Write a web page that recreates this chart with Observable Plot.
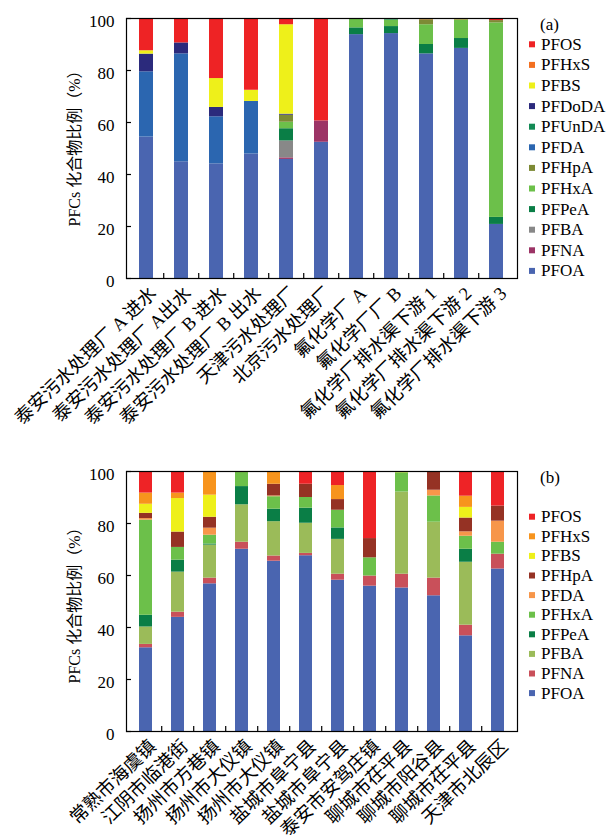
<!DOCTYPE html>
<html>
<head>
<meta charset="utf-8">
<script src="https://cdn.jsdelivr.net/npm/d3@7"></script>
<script src="https://cdn.jsdelivr.net/npm/@observablehq/plot@0.6"></script>
<style>
  body { margin: 0; background: #fff; }
  #chart { width: 613px; height: 835px; position: relative; overflow: hidden; }
  #chart svg { display: block; }
</style>
</head>
<body>
<div id="chart"></div>
<script>
// ---------- Panel (a) data ----------
const sitesA = ["泰安污水处理厂 A 进水", "泰安污水处理厂 A出水", "泰安污水处理厂 B 进水", "泰安污水处理厂 B 出水",
  "天津污水处理厂", "北京污水处理厂", "氟化学厂 A", "氟化学厂厂 B",
  "氟化学厂排水渠下游 1", "氟化学厂排水渠下游 2", "氟化学厂排水渠下游 3"];
const legendA = ["PFOS", "PFHxS", "PFBS", "PFDoDA", "PFUnDA", "PFDA", "PFHpA", "PFHxA", "PFPeA", "PFBA", "PFNA", "PFOA"];
const colorsA = ["#ee2325", "#f37021", "#eef01a", "#2b2a7c", "#138a55", "#2b66b0", "#7d8a35", "#6cc04a", "#0a7e46", "#888888", "#9c3466", "#4a65b0"];
const A_PFOA  = [54.4, 44.9, 44.1, 47.9, 45.8, 52.4, 93.8, 94.2, 86.4, 88.5, 20.8];
const A_PFNA  = [0, 0, 0, 0, 0.6, 8.2, 0, 0, 0, 0, 0];
const A_PFBA  = [0, 0, 0, 0, 6.5, 0, 0, 0, 0, 0, 0];
const A_PFPeA = [0, 0, 0, 0, 4.7, 0, 2.6, 2.7, 3.6, 3.8, 2.7];
const A_PFHxA = [0, 0, 0, 0, 2.5, 0, 3.6, 2.5, 7.6, 7.2, 74.8];
const A_PFHpA = [0, 0, 0, 0, 2.7, 0, 0, 0, 1.9, 0, 0.9];
const A_PFDA  = [25.1, 41.5, 18.1, 20.2, 0, 0, 0, 0, 0, 0, 0];
const A_PFUnDA= [0, 0, 0, 0, 0, 0, 0, 0.6, 0, 0, 0];
const A_PFDoDA= [6.8, 4.2, 3.6, 0, 0.4, 0, 0, 0, 0, 0, 0];
const A_PFBS  = [1.3, 0, 11.1, 4.3, 34.4, 0, 0, 0, 0, 0, 0];
const A_PFHxS = [0, 0, 0, 0, 0, 0, 0, 0, 0.5, 0.5, 0];
const A_PFOS  = [12.4, 9.4, 23.1, 27.6, 2.4, 39.4, 0, 0, 0, 0, 0.8];
const seriesA = {PFOA: A_PFOA, PFNA: A_PFNA, PFBA: A_PFBA, PFPeA: A_PFPeA, PFHxA: A_PFHxA, PFHpA: A_PFHpA,
  PFDA: A_PFDA, PFUnDA: A_PFUnDA, PFDoDA: A_PFDoDA, PFBS: A_PFBS, PFHxS: A_PFHxS, PFOS: A_PFOS};

// ---------- Panel (b) data ----------
const sitesB = ["常熟市海虞镇", "江阴市临港街", "扬州市方巷镇", "扬州市大仪镇", "扬州市大仪镇", "盐城市阜宁县",
  "盐城市阜宁县", "泰安市安驾庄镇", "聊城市茌平县", "聊城市阳谷县", "聊城市茌平县", "天津市北辰区"];
const legendB = ["PFOS", "PFHxS", "PFBS", "PFHpA", "PFDA", "PFHxA", "PFPeA", "PFBA", "PFNA", "PFOA"];
const colorsB = ["#ee2326", "#f7941d", "#eef01a", "#953224", "#f7964a", "#6cc04a", "#0a7e46", "#9bbb59", "#c9505a", "#4a65b0"];
const B_PFOA  = [32.2, 43.9, 56.8, 70.1, 65.5, 67.6, 58.2, 55.9, 55.2, 52.2, 36.8, 62.5];
const B_PFNA  = [1.3, 2.0, 2.2, 2.7, 2.0, 0.9, 2.3, 3.9, 5.3, 6.8, 4.1, 5.7];
const B_PFBA  = [6.7, 15.4, 12.7, 14.4, 13.2, 11.6, 13.4, 0, 31.6, 21.5, 24.2, 0];
const B_PFPeA = [4.5, 4.6, 0.4, 7.0, 4.8, 5.8, 4.4, 0, 0, 0, 5.0, 0];
const B_PFHxA = [36.6, 4.9, 3.4, 5.4, 4.8, 4.1, 6.8, 7.0, 7.4, 10.1, 5.0, 4.6];
const B_PFDA  = [0.6, 0, 2.7, 0, 0.3, 0, 0, 0, 0, 2.2, 1.7, 8.1];
const B_PFHpA = [2.0, 5.9, 4.2, 0, 4.5, 5.1, 4.1, 7.4, 0, 7.2, 5.3, 5.8];
const B_PFBS  = [3.5, 12.9, 8.5, 0, 0, 0, 0, 0, 0.5, 0, 4.1, 0];
const B_PFHxS = [4.3, 2.1, 9.1, 0.4, 4.9, 0, 5.4, 0, 0, 0, 4.3, 0];
const B_PFOS  = [8.3, 8.3, 0, 0, 0, 4.9, 5.4, 25.8, 0, 0, 9.5, 13.3];
const seriesB = {PFOA: B_PFOA, PFNA: B_PFNA, PFBA: B_PFBA, PFPeA: B_PFPeA, PFHxA: B_PFHxA, PFDA: B_PFDA,
  PFHpA: B_PFHpA, PFBS: B_PFBS, PFHxS: B_PFHxS, PFOS: B_PFOS};

const yTicks = [0, 20, 40, 60, 80, 100];
const yTitle = "PFCs 化合物比例（%）";
const FONT = "'Liberation Serif', 'Noto Sans CJK SC', serif";

function rows(sites, series) {
  const out = [];
  for (const [k, vals] of Object.entries(series)) {
    vals.forEach((v, i) => { if (v > 0) out.push({id: i, compound: k, value: v}); });
  }
  return out;
}

function panel({sites, series, legend, colors, height, marginTop, marginBottom, tag, titleDy, legendTop, legendStep, tagY}) {
  const W = 613, ML = 126, MR = 96;
  const ids = sites.map((_, i) => i);
  const step = (W - ML - MR) / sites.length;
  const plotH = height - marginTop - marginBottom;
  const order = legend.slice().reverse();
  const svg = Plot.plot({
    width: W, height, marginTop, marginBottom, marginLeft: ML, marginRight: MR,
    style: {fontFamily: FONT, fontSize: "17px", color: "#000", background: "#fff", overflow: "visible"},
    x: {type: "band", domain: ids, paddingInner: 0.59, paddingOuter: 0.295, axis: null},
    y: {domain: [0, 100], axis: null},
    color: {domain: legend, range: colors},
    marks: [
      Plot.barY(rows(sites, series), Plot.stackY({order}, {x: "id", y: "value", fill: "compound", z: "compound"})),
      Plot.frame({stroke: "#000", strokeWidth: 1.2}),
      Plot.tickY(yTicks, {y: d => d, stroke: "#000", strokeWidth: 1.2, insetRight: (W - ML - MR) - 5}),
      Plot.tickX(ids.slice(1), {x: d => d, dx: -step / 2, stroke: "#000", strokeWidth: 1.2, insetTop: plotH - 5}),
      Plot.axisY({ticks: yTicks, tickSize: 0, tickPadding: 12, fontSize: 17, label: null, dy: 3}),
      Plot.text([yTitle], {frameAnchor: "left", textAnchor: "middle", rotate: -90, dx: -52, dy: titleDy, fontSize: 16}),
      Plot.text(ids, {x: d => d, text: d => sites[d], frameAnchor: "bottom", rotate: -44, textAnchor: "end",
        dx: 7, dy: 12, fontSize: 18.5, lineAnchor: "middle"})
    ]
  });
  const s = d3.select(svg);
  const lg = s.append("g").attr("font-family", FONT).attr("font-size", 17).attr("text-anchor", "start");
  lg.append("text").attr("x", 540).attr("y", tagY).attr("dy", "0.32em").text(tag);
  legend.forEach((k, i) => {
    const y = legendTop + i * legendStep;
    lg.append("rect").attr("x", 529).attr("y", y - 3).attr("width", 6).attr("height", 6).attr("fill", colors[i]);
    lg.append("text").attr("x", 541).attr("y", y).attr("dy", "0.32em").text(k);
  });
  return svg;
}

const root = document.getElementById("chart");
root.append(panel({sites: sitesA, series: seriesA, legend: legendA, colors: colorsA, height: 460,
  marginTop: 18, marginBottom: 182, tag: "(a)", titleDy: -4, legendTop: 44.3, legendStep: 20.6, tagY: 25}));
root.append(panel({sites: sitesB, series: seriesB, legend: legendB, colors: colorsB, height: 375,
  marginTop: 11, marginBottom: 104, tag: "(b)", titleDy: 0, legendTop: 56.7, legendStep: 19.6, tagY: 18}));
</script>
</body>
</html>
